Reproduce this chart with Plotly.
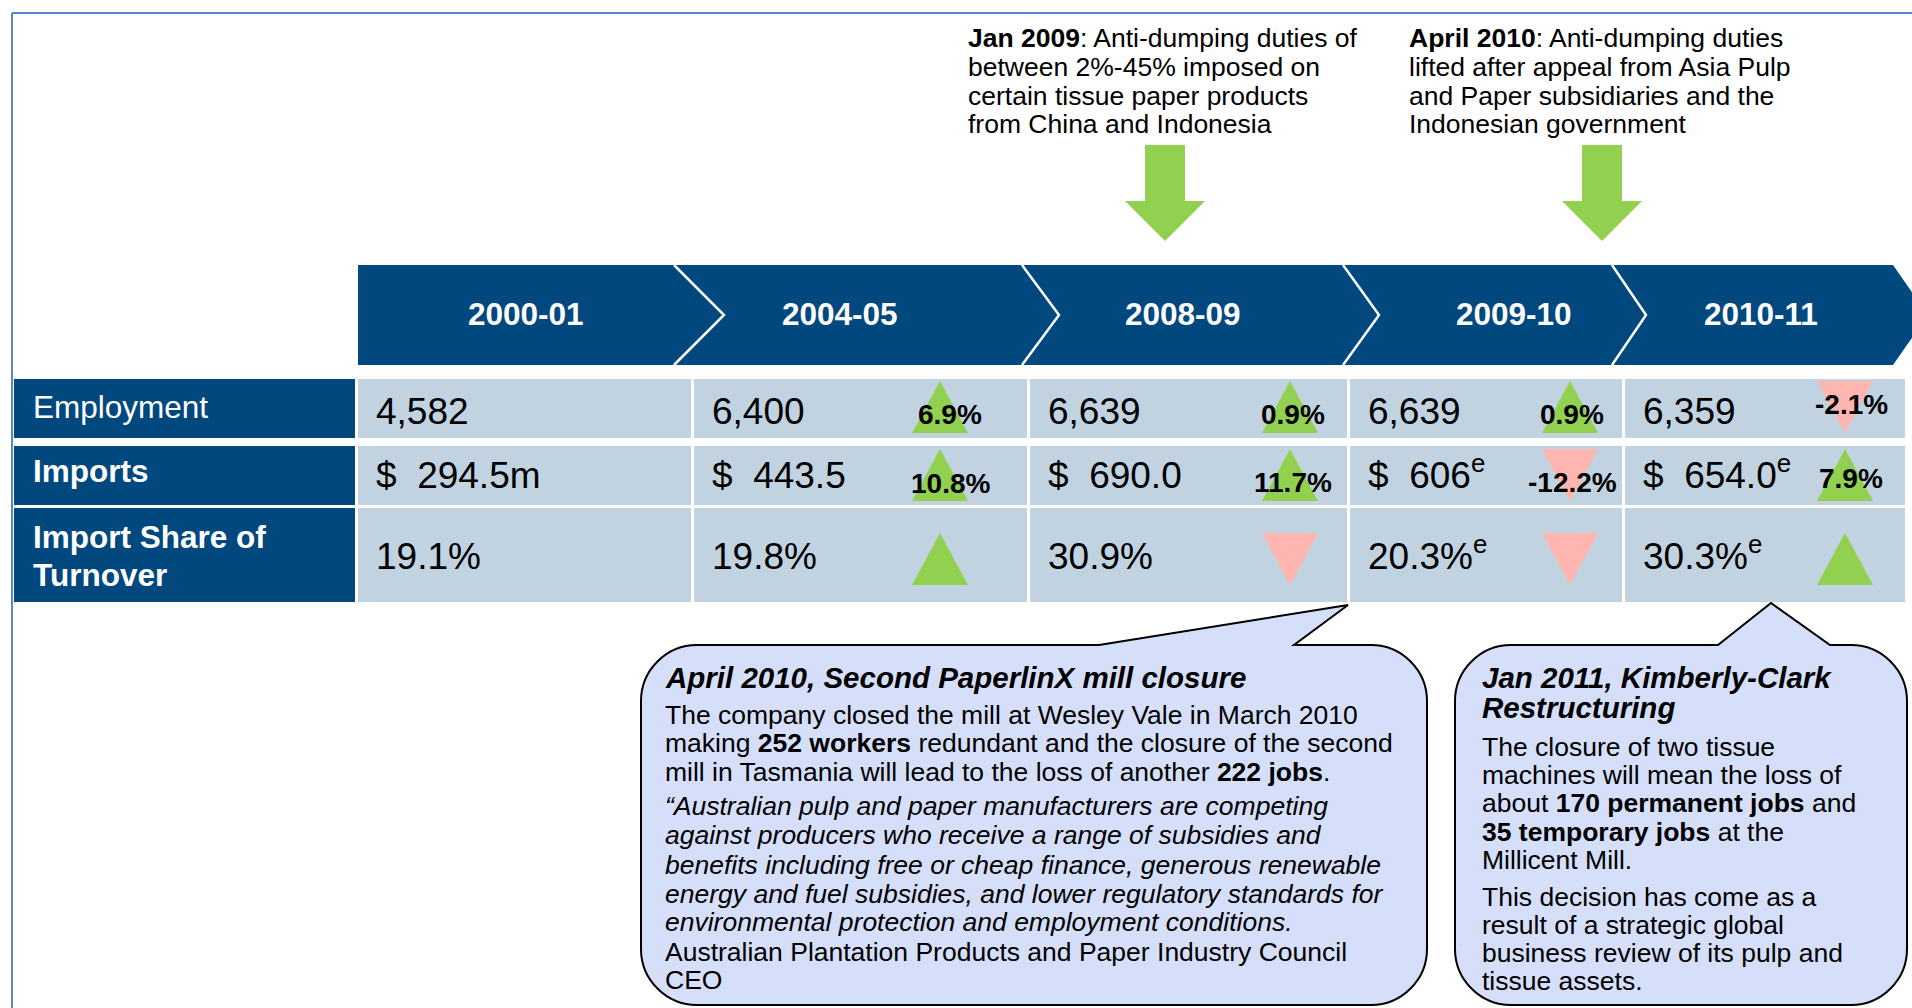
import plotly.graph_objects as go

# ---------------- data ----------------
years = ["2000-01", "2004-05", "2008-09", "2009-10", "2010-11"]
row_labels = [["Employment"], ["<b>Imports</b>"], ["<b>Import Share of</b>", "<b>Turnover</b>"]]

employment = [4582, 6400, 6639, 6639, 6359]
employment_change = [None, 6.9, 0.9, 0.9, -2.1]

imports_m = [294.5, 443.5, 690.0, 606, 654.0]
imports_decimals = [1, 1, 1, 0, 1]
imports_change = [None, 10.8, 11.7, -12.2, 7.9]

import_share = [19.1, 19.8, 30.9, 20.3, 30.3]
import_share_trend = [0, 1, -1, -1, 1]

estimated = [False, False, False, True, True]

event_texts = [
    ["<b>Jan 2009</b>: Anti-dumping duties of",
     "between 2%-45% imposed on",
     "certain tissue paper products",
     "from China and Indonesia"],
    ["<b>April 2010</b>: Anti-dumping duties",
     "lifted after appeal from Asia Pulp",
     "and Paper subsidiaries and the",
     "Indonesian government"],
]

callout1_lines = [
    "<b><i>April 2010, Second PaperlinX mill closure</i></b>",
    "The company closed the mill at Wesley Vale in March 2010",
    "making <b>252 workers</b> redundant and the closure of the second",
    "mill in Tasmania will lead to the loss of another <b>222 jobs</b>.",
    "<i>\u201cAustralian pulp and paper manufacturers are competing</i>",
    "<i>against producers who receive a range of subsidies and</i>",
    "<i>benefits including free or cheap finance, generous renewable</i>",
    "<i>energy and fuel subsidies, and lower regulatory standards for</i>",
    "<i>environmental protection and employment conditions.</i>",
    "Australian Plantation Products and Paper Industry Council",
    "CEO",
]
callout2_lines = [
    "<b><i>Jan 2011, Kimberly-Clark</i></b>",
    "<b><i>Restructuring</i></b>",
    "The closure of two tissue",
    "machines will mean the loss of",
    "about <b>170 permanent jobs</b> and",
    "<b>35 temporary jobs</b> at the",
    "Millicent Mill.",
    "This decision has come as a",
    "result of a strategic global",
    "business review of its pulp and",
    "tissue assets.",
]

# ---------------- layout constants ----------------
W, H = 1912, 1008
FONT = "Liberation Sans, Arial, sans-serif"
NAVY = "#01487F"
CELL = "#C1D3E1"
GREEN = "#92D050"
PINK = "#FFB5B0"
BUBBLE = "#D5DFF9"

col_x0 = [358, 694, 1030, 1350, 1625]
col_x1 = [691, 1027, 1347, 1622, 1905]
label_x0, label_x1 = 14, 355
row_y0 = [379, 446, 508]
row_y1 = [438, 505, 602]
value_base = [424, 488, 569]
tri_cx = [None, 940, 1290, 1570, 1845]
pct_cx = [None, 950, 1293, 1572, 1851]
emp_pct_base = [None, 424, 424, 424, 414]
imp_pct_base = [None, 493, 492, 492, 488]
# (top, bottom) of triangle per row
tri_span = [(381, 433), (449, 501), (533, 585)]
header_cx = [526, 840, 1183, 1514, 1761]
header_top, header_bot = 265, 365
chevrons = [(674, 724), (1022, 1059), (1343, 1379), (1612, 1646)]
arrow_cx = [1165, 1602]
event_x = [968, 1409]
event_base = [47, 76, 105, 133]

shapes = []
annotations = []


def txt(x, baseline, text, size, color="black", anchor="left"):
    annotations.append(dict(
        x=x, y=baseline + 0.212 * size, xref="x", yref="y", text=text,
        showarrow=False, xanchor=anchor, yanchor="bottom",
        font=dict(family=FONT, size=size, color=color),
        borderpad=0, borderwidth=0,
    ))


def rect(x0, y0, x1, y1, color):
    shapes.append(dict(type="rect", xref="x", yref="y", x0=x0, y0=y0, x1=x1, y1=y1,
                       fillcolor=color, line=dict(width=0), layer="below"))


def path(d, fill=None, line_color=None, lw=0):
    s = dict(type="path", xref="x", yref="y", path=d, layer="below")
    if fill:
        s["fillcolor"] = fill
    s["line"] = dict(width=lw, color=line_color or "rgba(0,0,0,0)")
    shapes.append(s)


def triangle(cx, span, direction):
    top, bot = span
    hw = 28
    if direction > 0:
        d = f"M{cx-hw},{bot} L{cx+hw},{bot} L{cx},{top} Z"
        path(d, fill=GREEN)
    else:
        d = f"M{cx-hw},{top} L{cx+hw},{top} L{cx},{bot} Z"
        path(d, fill=PINK)


# outer frame lines
shapes.append(dict(type="line", xref="x", yref="y", x0=12, y0=13, x1=W, y1=13,
                   line=dict(color="#5A86C4", width=2)))
shapes.append(dict(type="line", xref="x", yref="y", x0=12, y0=13, x1=12, y1=H,
                   line=dict(color="#5A86C4", width=2)))

# header band with chevrons
path(f"M{col_x0[0]},{header_top} L1893,{header_top} L1928,{(header_top+header_bot)/2} "
     f"L1893,{header_bot} L{col_x0[0]},{header_bot} Z", fill=NAVY)
for top_x, pt_x in chevrons:
    path(f"M{top_x},{header_top} L{pt_x},{(header_top+header_bot)/2} L{top_x},{header_bot}",
         line_color="white", lw=2.5)
for cx, yr in zip(header_cx, years):
    txt(cx, 325, f"<b>{yr}</b>", 31.5, color="white", anchor="center")

# row label cells
label_bases = [[418], [482], [548, 586]]
for r in range(3):
    rect(label_x0, row_y0[r], label_x1, row_y1[r], NAVY)
    for line, b in zip(row_labels[r], label_bases[r]):
        txt(33, b, line, 31.5, color="white")

# data cells
for c in range(5):
    for r in range(3):
        rect(col_x0[c], row_y0[r], col_x1[c], row_y1[r], CELL)

for c in range(5):
    sup = "<sup>e</sup>" if estimated[c] else ""
    # employment
    txt(col_x0[c] + 18, value_base[0], f"{employment[c]:,}", 37)
    # imports
    val = f"{imports_m[c]:.{imports_decimals[c]}f}" + ("m" if c == 0 else "")
    txt(col_x0[c] + 18, value_base[1], "$\u00a0\u00a0" + val + sup, 37)
    # share
    txt(col_x0[c] + 18, value_base[2], f"{import_share[c]:.1f}%" + sup, 37)

    if employment_change[c] is not None:
        triangle(tri_cx[c], tri_span[0], 1 if employment_change[c] > 0 else -1)
        txt(pct_cx[c], emp_pct_base[c], f"<b>{employment_change[c]:.1f}%</b>", 28, anchor="center")
    if imports_change[c] is not None:
        triangle(tri_cx[c], tri_span[1], 1 if imports_change[c] > 0 else -1)
        txt(pct_cx[c], imp_pct_base[c], f"<b>{imports_change[c]:.1f}%</b>", 28, anchor="center")
    if import_share_trend[c] != 0:
        triangle(tri_cx[c], tri_span[2], import_share_trend[c])

# event annotations with green arrows
for ex, lines, ax in zip(event_x, event_texts, arrow_cx):
    for line, b in zip(lines, event_base):
        txt(ex, b, line, 26.5)
    path(f"M{ax-20},145 L{ax+20},145 L{ax+20},201 L{ax+40},201 L{ax},241 "
         f"L{ax-40},201 L{ax-20},201 Z", fill=GREEN)


def bubble(L, T, R, B, r, pb0, pb1, tip):
    k = r * 0.45
    return (f"M{L+r},{T} L{pb0},{T} L{tip[0]},{tip[1]} L{pb1},{T} L{R-r},{T} "
            f"C{R-k},{T} {R},{T+k} {R},{T+r} L{R},{B-r} "
            f"C{R},{B-k} {R-k},{B} {R-r},{B} L{L+r},{B} "
            f"C{L+k},{B} {L},{B-k} {L},{B-r} L{L},{T+r} "
            f"C{L},{T+k} {L+k},{T} {L+r},{T} Z")


path(bubble(641, 645, 1427, 1005, 56, 1099, 1294, (1348, 605)),
     fill=BUBBLE, line_color="black", lw=2)
path(bubble(1455, 645, 1907, 1005, 56, 1718, 1830, (1771, 603)),
     fill=BUBBLE, line_color="black", lw=2)

c1_bases = [688, 724, 752, 781, 815, 844, 874, 903, 931, 961, 989]
for i, (line, b) in enumerate(zip(callout1_lines, c1_bases)):
    txt(665, b, line, 29.5 if i == 0 else 26.5)

c2_bases = [688, 718, 756, 784, 812, 841, 869, 906, 934, 962, 990]
for i, (line, b) in enumerate(zip(callout2_lines, c2_bases)):
    txt(1482, b, line, 29.5 if i < 2 else 26.5)

fig = go.Figure()
fig.add_trace(go.Scatter(x=[0, W], y=[0, H], mode="markers",
                         marker=dict(opacity=0), hoverinfo="skip", showlegend=False))
fig.update_layout(
    width=W, height=H, margin=dict(l=0, r=0, t=0, b=0),
    paper_bgcolor="white", plot_bgcolor="white",
    xaxis=dict(range=[0, W], visible=False, fixedrange=True),
    yaxis=dict(range=[H, 0], visible=False, fixedrange=True),
    shapes=shapes, annotations=annotations, showlegend=False,
)
fig.write_html("out.html", config={"displayModeBar": False},
               post_script="document.body.style.margin='0';document.body.style.overflow='hidden';")
